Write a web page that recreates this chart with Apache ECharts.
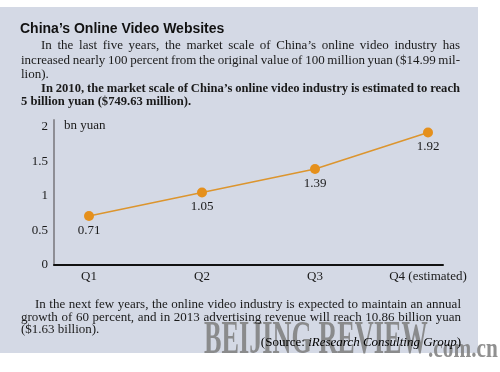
<!DOCTYPE html>
<html>
<head>
<meta charset="utf-8">
<script src="https://cdn.jsdelivr.net/npm/echarts@6/dist/echarts.min.js"></script>
<style>
html,body{margin:0;padding:0;background:#fff;}
#c{width:500px;height:372px;}
</style>
</head>
<body>
<div id="c"></div>
<script>
// ---- data ----
var categories = ['Q1', 'Q2', 'Q3', 'Q4 (estimated)'];
var values = [0.71, 1.05, 1.39, 1.92];
var yTicks = [0, 0.5, 1, 1.5, 2];
var unitLabel = 'bn yuan';

var titleText = 'China\u2019s Online Video Websites';
var introLines = [
  'In the last five years, the market scale of China\u2019s online video industry has',
  'increased nearly 100 percent from the original value of 100 million yuan ($14.99 mil-',
  'lion).'
];
var boldLines = [
  'In 2010, the market scale of China\u2019s online video industry is estimated to reach',
  '5 billion yuan ($749.63 million).'
];
var outroLines = [
  'In the next few years, the online video industry is expected to maintain an annual',
  'growth of 60 percent, and in 2013 advertising revenue will reach 10.86 billion yuan',
  '($1.63 billion).'
];
var sourceText = ['(Source: ', 'iResearch Consulting Group', ')'];
var watermark = ['BEIJING REVIEW', '.com.cn'];

var SERIF = '"Liberation Serif", "Times New Roman", serif';
var SANS = '"Liberation Sans", Arial, sans-serif';

function fontStr(opt) {
  return (opt.style || 'normal') + ' ' + (opt.weight || 'normal') + ' ' + (opt.size || 13) + 'px ' + (opt.family || SERIF);
}

function txt(s, x, y, opt) {
  opt = opt || {};
  return {
    type: 'text', x: x, y: y, z: opt.z || 10,
    scaleX: opt.scaleX || 1,
    style: {
      text: s,
      fill: opt.fill || '#1a1a1a',
      font: fontStr(opt),
      textAlign: opt.align || 'left',
      textVerticalAlign: 'middle'
    }
  };
}

var measureCtx = document.createElement('canvas').getContext('2d');
// justified line: words spread evenly between x0 and x1
function justify(s, x0, x1, y, opt) {
  opt = opt || {};
  measureCtx.font = fontStr(opt);
  var words = s.split(' ');
  var widths = words.map(function (w) { return measureCtx.measureText(w).width; });
  var total = widths.reduce(function (a, b) { return a + b; }, 0);
  var gap = (x1 - x0 - total) / (words.length - 1);
  var out = [];
  var x = x0;
  for (var i = 0; i < words.length; i++) {
    out.push(txt(words[i], x, y, opt));
    x += widths[i] + gap;
  }
  return out;
}

var BOLD = { weight: 'bold', size: 12.6 };

var graphics = [
  { type: 'rect', z: -10, shape: { x: 0, y: 7, width: 478, height: 346 }, style: { fill: '#d4d9e5' } },
  txt(watermark[0], 204, 341, { size: 46, weight: 'bold', scaleX: 0.57, fill: 'rgba(125,125,125,0.85)', z: 3 }),
  txt(watermark[1], 428, 350, { size: 28, weight: 'bold', scaleX: 0.76, fill: 'rgba(125,125,125,0.85)', z: 3 }),
  txt(titleText, 20, 29, { size: 14, weight: 'bold', family: SANS, fill: '#111' }),
  txt(introLines[2], 21, 74.5),
  txt(boldLines[1], 21, 102, BOLD),
  txt(outroLines[2], 21, 329.5),
  {
    type: 'text', x: 461, y: 342.5, z: 10,
    style: {
      text: '{n|' + sourceText[0] + '}{i|' + sourceText[1] + '}{n|' + sourceText[2] + '}',
      textAlign: 'right', textVerticalAlign: 'middle',
      rich: {
        n: { fontFamily: SERIF, fontSize: 13, color: '#1a1a1a' },
        i: { fontFamily: SERIF, fontSize: 13, fontStyle: 'italic', color: '#1a1a1a' }
      }
    }
  }
]
.concat(justify(introLines[0], 41, 460, 46))
.concat(justify(introLines[1], 21, 460, 60.5))
.concat(justify(boldLines[0], 41, 460, 88.5, BOLD))
.concat(justify(outroLines[0], 35, 461, 304.5))
.concat(justify(outroLines[1], 21, 461, 317.5));

var chart = echarts.init(document.getElementById('c'), null, { renderer: 'canvas' });
chart.setOption({
  animation: false,
  backgroundColor: '#ffffff',
  graphic: { elements: graphics },
  grid: [
    { left: 54, right: 57, top: 120, bottom: 107 },
    { left: 89, right: 72, top: 120, bottom: 107 }
  ],
  xAxis: [
    {
      gridIndex: 0, type: 'value', min: 0, max: 1,
      axisLine: { show: true, lineStyle: { color: '#111', width: 2 } },
      axisTick: { show: false }, axisLabel: { show: false }, splitLine: { show: false }
    },
    {
      gridIndex: 1, type: 'category', data: categories, boundaryGap: false,
      axisLine: { show: false }, axisTick: { show: false }, splitLine: { show: false },
      axisLabel: { margin: 5, color: '#1a1a1a', fontFamily: SERIF, fontSize: 13 }
    }
  ],
  yAxis: [
    {
      gridIndex: 0, type: 'value', min: 0, max: 2.1, interval: 0.5,
      axisLine: { show: true, lineStyle: { color: '#8e8e95', width: 2 } },
      axisTick: { show: false }, splitLine: { show: false },
      axisLabel: {
        showMaxLabel: false, margin: 6, color: '#1a1a1a', fontFamily: SERIF, fontSize: 13,
        formatter: function (v) { return yTicks.indexOf(v) >= 0 ? String(v) : ''; }
      },
      name: unitLabel, nameLocation: 'end', nameGap: -6,
      nameTextStyle: { align: 'left', verticalAlign: 'middle', padding: [0, 0, 0, 10], color: '#1a1a1a', fontFamily: SERIF, fontSize: 13 }
    },
    {
      gridIndex: 1, type: 'value', min: 0, max: 2.1, show: false
    }
  ],
  series: [{
    type: 'line', xAxisIndex: 1, yAxisIndex: 1, data: values,
    symbol: 'circle', symbolSize: 10,
    lineStyle: { color: '#dc952e', width: 1.5 },
    itemStyle: { color: '#e5901c' },
    label: { show: true, position: 'bottom', distance: 3, color: '#1a1a1a', fontFamily: SERIF, fontSize: 13 }
  }]
});
</script>
</body>
</html>
